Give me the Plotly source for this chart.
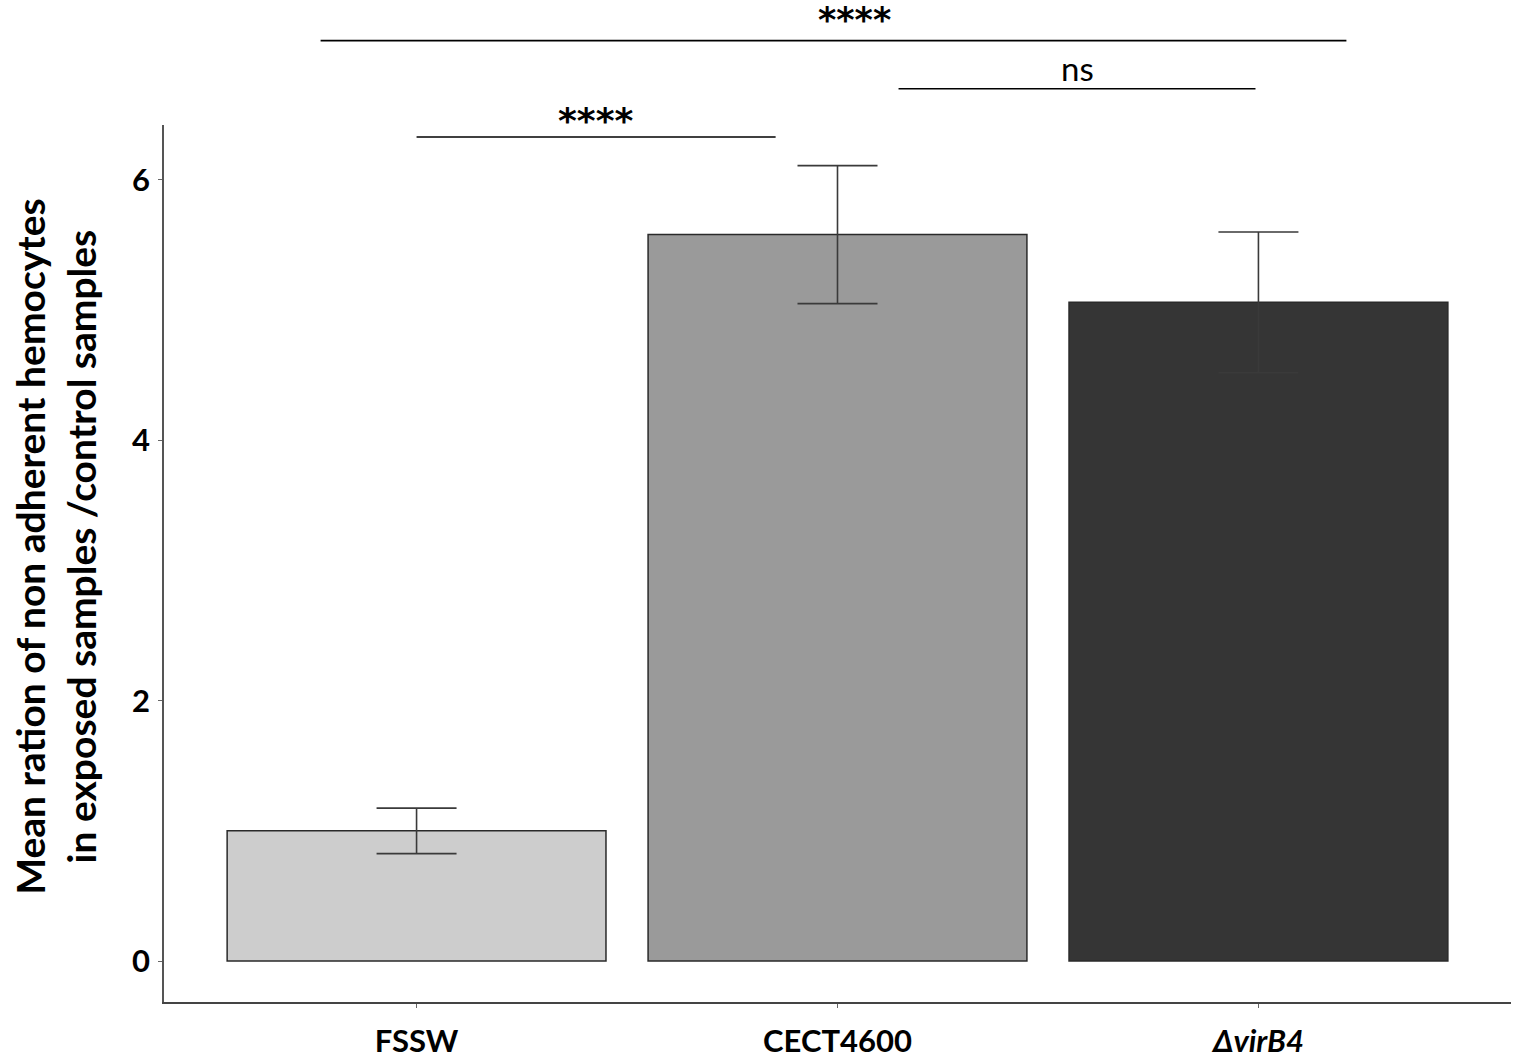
import plotly.graph_objects as go

categories = ["FSSW", "CECT4600", "<i>ΔvirB4</i>"]
means = [1.0, 5.58, 5.06]
errors = [0.175, 0.53, 0.54]
bar_colors = ["#cdcdcd", "#9a9a9a", "#353535"]
y_title = "Mean ration of non adherent hemocytes<br>in exposed samples /control samples"

# significance brackets: (x start, x end, y value, label, label x, label y)
sig_x0 = [0.0, 1.145, -0.228]
sig_x1 = [0.853, 1.993, 2.209]
sig_y = [6.33, 6.70, 7.07]
sig_text = ["****", "ns", "****"]
sig_tx = [0.426, 1.569, 1.04]
sig_ty = [6.46, 6.86, None]  # None: pinned to the top edge of the figure
sig_font = ["DejaVu Sans", "Lato", "DejaVu Sans"]
sig_weight = ["bold", "normal", "bold"]
sig_size = [36, 33, 35]

y_range = [-0.3146, 6.422]
x_range = [-0.6, 2.6]
W, H = 1516, 1061
M = dict(l=164, r=5, t=125, b=59)


def yp(v):
    return (v - y_range[0]) / (y_range[1] - y_range[0])


fig = go.Figure()
fig.add_trace(go.Bar(
    x=[0, 1, 2],
    y=means,
    width=0.9,
    marker=dict(color=bar_colors, line=dict(color="#2a2a2a", width=1.5)),
    error_y=dict(type="data", array=errors, visible=True, color="#3a3a3a",
                 thickness=1.6, width=40),
    showlegend=False,
))

paper_top = 1 + M["t"] / (H - M["t"] - M["b"])

shapes = []
annotations = []
for x0, x1, y, t, tx, ty, fam, wt, sz in zip(sig_x0, sig_x1, sig_y, sig_text, sig_tx,
                                           sig_ty, sig_font, sig_weight, sig_size):
    shapes.append(dict(type="line", xref="x", yref="paper", x0=x0, x1=x1,
                       y0=yp(y), y1=yp(y), line=dict(color="black", width=1.6)))
    if ty is None:
        ann = dict(y=paper_top, yanchor="top", yshift=2)
    else:
        ann = dict(y=yp(ty), yanchor="middle")
    annotations.append(dict(xref="x", yref="paper", x=tx, text=t,
                            showarrow=False, xanchor="center",
                            font=dict(family=fam, size=sz, color="black", weight=wt), **ann))

# y-axis title as rotated annotation
annotations.append(dict(xref="paper", yref="paper", x=0, y=0.519, xshift=-108,
                        text=y_title, textangle=-90, showarrow=False,
                        xanchor="center", yanchor="middle",
                        font=dict(family="Lato", size=39, color="black", weight="bold")))

fig.update_layout(
    width=W, height=H,
    margin=M,
    plot_bgcolor="white", paper_bgcolor="white",
    font=dict(family="Lato", color="black"),
    shapes=shapes,
    annotations=annotations,
    xaxis=dict(
        range=x_range, tickmode="array", tickvals=[0, 1, 2], ticktext=categories,
        showline=True, linecolor="#444444", linewidth=1.6,
        ticks="outside", ticklen=4, tickcolor="#666666",
        showgrid=False, zeroline=False, automargin=False,
        tickfont=dict(family="Lato", size=31, color="black", weight="bold"),
        ticklabelstandoff=7,
    ),
    yaxis=dict(
        range=y_range, tickvals=[0, 2, 4, 6],
        showline=True, linecolor="#555555", linewidth=1.6,
        ticks="outside", ticklen=4, tickcolor="#666666",
        showgrid=False, zeroline=False, automargin=False,
        tickfont=dict(family="Lato", size=31, color="black", weight="bold"),
        ticklabelstandoff=2,
    ),
)

fig.write_html("out.html", config={"displayModeBar": False},
               post_script="document.body.style.margin='0';document.body.style.overflow='hidden';")
